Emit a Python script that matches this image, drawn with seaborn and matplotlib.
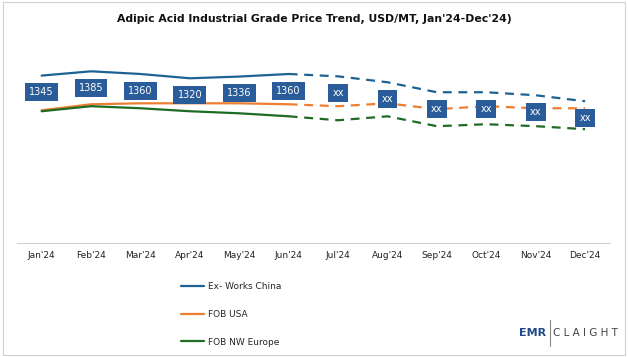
import matplotlib
matplotlib.use("Agg")
import matplotlib.pyplot as plt
import seaborn as sns
import pandas as pd
from matplotlib.lines import Line2D
from matplotlib.patches import Rectangle

sns.set_theme(style="white")
plt.rcParams['font.family'] = ['DejaVu Sans']

months = ["Jan'24", "Feb'24", "Mar'24", "Apr'24", "May'24", "Jun'24",
          "Jul'24", "Aug'24", "Sep'24", "Oct'24", "Nov'24", "Dec'24"]
china = [1345, 1385, 1360, 1320, 1336, 1360, 1338, 1283, 1190, 1190, 1162, 1106]
usa = [1022, 1078, 1087, 1087, 1087, 1078, 1060, 1087, 1032, 1060, 1041, 1041]
europe = [1013, 1060, 1041, 1013, 994, 966, 929, 966, 874, 892, 874, 846]
box_labels = ["1345", "1385", "1360", "1320", "1336", "1360",
              "xx", "xx", "xx", "xx", "xx", "xx"]
actual_upto = 5  # Jun'24 is last actual point, then forecast

series = {"Ex- Works China": (china, "#1d6391"),
          "FOB USA": (usa, "#ed7d31"),
          "FOB NW Europe": (europe, "#1e6b24")}

fig = plt.figure(figsize=(6.28, 3.57), dpi=100)
ax = fig.add_axes([0.027, 0.319, 0.944, 0.57])

for name, (vals, col) in series.items():
    df = pd.DataFrame({"x": range(len(months)), "y": vals})
    act = df[df.x <= actual_upto]
    fc = df[df.x >= actual_upto]
    sns.lineplot(data=act, x="x", y="y", ax=ax, color=col, linewidth=1.6)
    sns.lineplot(data=fc, x="x", y="y", ax=ax, color=col, linewidth=1.6,
                 linestyle=(0, (4, 3)))

# data label boxes below the China line
for i, (v, lab) in enumerate(zip(china, box_labels)):
    ax.annotate(lab, (i, v), xytext=(0, -12), textcoords="offset points",
                ha="center", va="center", fontsize=7, color="white",
                bbox=dict(boxstyle="square,pad=0.42", fc="#2a5c99", ec="none"))

ax.set_xlim(-0.5, len(months) - 0.5)
ax.set_ylim(-215, 1680)
ax.set_xticks(range(len(months)))
ax.set_xticklabels(months, fontsize=6.5, color="#222222")
ax.set_xticks([i + 0.5 for i in range(-1, len(months))], minor=True)
ax.tick_params(axis="x", which="major", length=0, pad=6)
ax.tick_params(axis="x", which="minor", length=3, color="#d0d0d0", width=0.8)
ax.set_yticks([])
ax.set_xlabel("")
ax.set_ylabel("")
for s in ["top", "right", "left"]:
    ax.spines[s].set_visible(False)
ax.spines["bottom"].set_color("#d0d0d0")
ax.spines["bottom"].set_linewidth(0.8)

fig.text(0.5, 0.947, "Adipic Acid Industrial Grade Price Trend, USD/MT, Jan'24-Dec'24)",
         ha="center", va="center", fontsize=7.8, fontweight="bold", color="#111111")

handles = [Line2D([0], [0], color=c, lw=1.6) for _, c in series.values()]
fig.legend(handles, list(series.keys()), loc="center left",
           bbox_to_anchor=(0.275, 0.12), frameon=False, fontsize=6.5,
           handlelength=2.6, handletextpad=0.4, labelspacing=2.1)

# logo
fig.text(0.869, 0.067, "EMR", ha="right", va="center", fontsize=8,
         fontweight="bold", color="#1f4a8a")
fig.add_artist(Line2D([0.876, 0.876], [0.03, 0.105], color="#888888", lw=0.8))
fig.text(0.881, 0.067, "C L A I G H T", ha="left", va="center", fontsize=7.5,
         color="#444444")

fig.add_artist(Rectangle((0.004, 0.006), 0.992, 0.988, transform=fig.transFigure,
                         fill=False, ec="#d0d0d0", lw=0.8))

fig.savefig("out.png", dpi=100)
